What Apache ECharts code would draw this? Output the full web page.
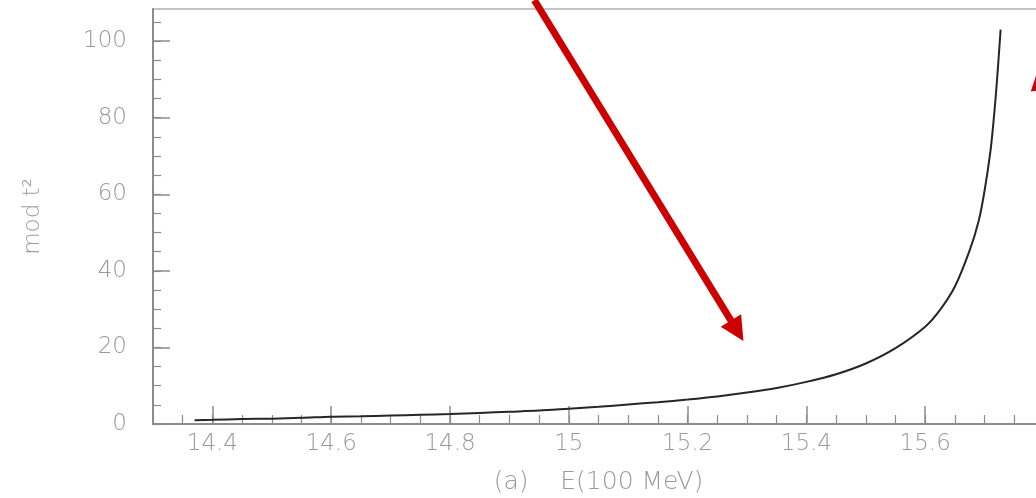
<!DOCTYPE html>
<html>
<head>
<meta charset="utf-8">
<script src="https://cdn.jsdelivr.net/npm/echarts@6/dist/echarts.min.js"></script>
<style>
  html, body { margin: 0; padding: 0; background: #fff; }
  #chart { width: 1036px; height: 498px; }
</style>
</head>
<body>
<div id="chart"></div>
<script>
// Energy in units of 100 MeV
const energy = [14.37, 14.4, 14.45, 14.5, 14.55, 14.6, 14.65, 14.7, 14.75, 14.8,
  14.85, 14.9, 14.95, 15.0, 15.05, 15.1, 15.15, 15.2, 15.25, 15.3, 15.35, 15.4,
  15.45, 15.5, 15.55, 15.6, 15.625, 15.65, 15.675, 15.69, 15.7, 15.71, 15.715, 15.72, 15.727];
// |t|^2 at each energy
const modT2 = [1.0, 1.1, 1.3, 1.4, 1.6, 1.9, 2.0, 2.2, 2.4, 2.6,
  2.9, 3.2, 3.5, 4.0, 4.5, 5.1, 5.7, 6.4, 7.2, 8.2, 9.4, 11.0,
  13.0, 15.8, 19.8, 25.4, 29.8, 35.9, 45.4, 53.0, 61.0, 71.5, 79.0, 88.0, 103.0];

// Axis ticks and labels
const xLabels = [14.4, 14.6, 14.8, 15.0, 15.2, 15.4, 15.6];
const xMinor = [];
for (let i = 0; i <= 30; i++) xMinor.push(+(14.3 + i * 0.05).toFixed(2));
const yLabels = [0, 20, 40, 60, 80, 100];
const yMinor = [];
for (let v = 0; v <= 105; v += 5) yMinor.push(v);

// Annotation arrows: [fromE, fromT2, toE, toT2]
const arrowMain = [14.942, 110.7, 15.294, 21.7];
const arrowSide = [15.81, 74.0, 15.792, 93.5];

const X_MIN = 14.3, X_MAX = 15.8, Y_MIN = 0, Y_MAX = 108.4;
const GREY = '#8c8c8c';
const labelFont = { color: '#9a9a9a', fontFamily: 'DejaVu Sans', fontWeight: 200, fontSize: 23 };

const chart = echarts.init(document.getElementById('chart'), null, { renderer: 'canvas' });

function renderArrow(params, api) {
  const p1 = api.coord([api.value(0), api.value(1)]);
  const p2 = api.coord([api.value(2), api.value(3)]);
  const dx = p2[0] - p1[0], dy = p2[1] - p1[1];
  const len = Math.sqrt(dx * dx + dy * dy);
  const ux = dx / len, uy = dy / len;
  const headL = 24, headW = 12;
  const bx = p2[0] - ux * headL, by = p2[1] - uy * headL;
  const color = '#cc0000';
  return {
    type: 'group',
    children: [
      {
        type: 'line',
        shape: { x1: p1[0], y1: p1[1], x2: bx + ux * 2, y2: by + uy * 2 },
        style: { stroke: color, lineWidth: 7 }
      },
      {
        type: 'polygon',
        shape: { points: [
          [p2[0], p2[1]],
          [bx - uy * headW, by + ux * headW],
          [bx + uy * headW, by - ux * headW]
        ] },
        style: { fill: color }
      }
    ]
  };
}

const option = {
  backgroundColor: '#fff',
  animation: false,
  grid: {
    left: 153, top: 9, right: -8, bottom: 74,
    outerBoundsMode: 'none',
    containLabel: false,
    show: true, borderColor: '#c4c4c4', borderWidth: 2
  },
  xAxis: [
    {
      type: 'value', min: X_MIN, max: X_MAX,
      name: '(a)    E(100 MeV)', nameLocation: 'middle', nameGap: 46,
      nameTextStyle: { color: '#9a9a9a', fontFamily: 'DejaVu Sans', fontWeight: 200, fontSize: 25 },
      axisLine: { show: true, lineStyle: { color: GREY, width: 2 } },
      axisTick: { show: true, inside: true, length: 18, customValues: xLabels, lineStyle: { color: GREY, width: 1.5 } },
      axisLabel: Object.assign({ show: true, margin: 9, customValues: xLabels,
        formatter: v => (Math.round(v * 10) / 10).toString() }, labelFont),
      splitLine: { show: false }
    },
    {
      type: 'value', min: X_MIN, max: X_MAX, position: 'bottom',
      axisLine: { show: false },
      axisTick: { show: true, inside: true, length: 9, customValues: xMinor, lineStyle: { color: GREY, width: 1.2 } },
      axisLabel: { show: false },
      splitLine: { show: false }
    }
  ],
  yAxis: [
    {
      type: 'value', min: Y_MIN, max: Y_MAX,
      name: 'mod t\u00B2', nameLocation: 'middle', nameGap: 108, nameRotate: 90,
      nameTextStyle: { color: '#a0a0a0', fontFamily: 'DejaVu Sans', fontWeight: 200, fontSize: 23 },
      axisLine: { show: true, lineStyle: { color: GREY, width: 2 } },
      axisTick: { show: true, inside: true, length: 17, customValues: yLabels, lineStyle: { color: GREY, width: 1.5 } },
      axisLabel: Object.assign({ show: true, margin: 26, customValues: yLabels }, labelFont),
      splitLine: { show: false }
    },
    {
      type: 'value', min: Y_MIN, max: Y_MAX, position: 'left',
      axisLine: { show: false },
      axisTick: { show: true, inside: true, length: 8, customValues: yMinor, lineStyle: { color: GREY, width: 1.2 } },
      axisLabel: { show: false },
      splitLine: { show: false }
    }
  ],
  series: [
    {
      type: 'line',
      xAxisIndex: 0, yAxisIndex: 0,
      data: energy.map((e, i) => [e, modT2[i]]),
      showSymbol: false,
      smooth: 0.3,
      lineStyle: { color: '#262626', width: 2 }
    },
    {
      type: 'custom',
      xAxisIndex: 0, yAxisIndex: 0,
      clip: false,
      renderItem: renderArrow,
      encode: { x: [0, 2], y: [1, 3] },
      data: [arrowMain, arrowSide],
      z: 10
    }
  ]
};

chart.setOption(option);
</script>
</body>
</html>
